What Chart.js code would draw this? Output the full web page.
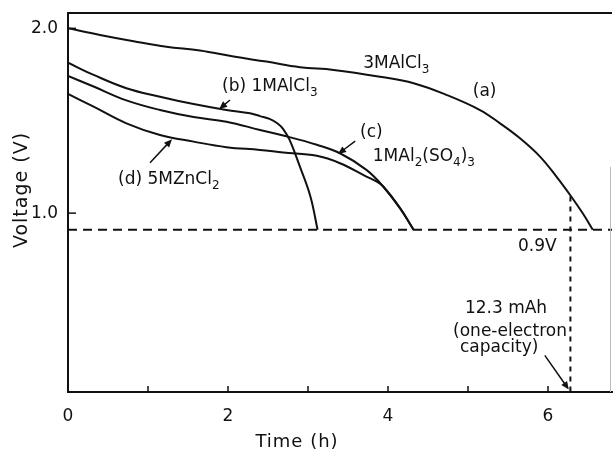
<!DOCTYPE html>
<html>
<head>
<meta charset="utf-8">
<script src="https://cdn.jsdelivr.net/npm/chart.js@4.4.0/dist/chart.umd.min.js"></script>
<style>
  html, body { margin: 0; padding: 0; background: #fff; }
</style>
</head>
<body>
<canvas id="chart" width="613" height="450"></canvas>
<script>
// ── Data (time in h, voltage in V) ─────────────────────────────
const aTime = [0, 0.4, 0.82, 1.23, 1.65, 2.07, 2.48, 2.9, 3.32, 3.9, 4.32, 4.73, 5.15, 5.4, 5.65, 5.9, 6.11, 6.29, 6.44, 6.56];
const aVolt = [2.0, 1.964, 1.93, 1.9, 1.88, 1.847, 1.82, 1.79, 1.775, 1.738, 1.703, 1.64, 1.558, 1.486, 1.405, 1.306, 1.195, 1.09, 0.995, 0.91];

const bTime = [0, 0.32, 0.73, 1.15, 1.57, 1.98, 2.275, 2.4, 2.52, 2.62, 2.69, 2.77, 2.9, 3.03, 3.12];
const bVolt = [1.814, 1.748, 1.676, 1.63, 1.59, 1.558, 1.54, 1.525, 1.51, 1.485, 1.455, 1.396, 1.25, 1.09, 0.91];

const cTime = [0, 0.32, 0.73, 1.15, 1.57, 1.98, 2.4, 2.69, 3.11, 3.4, 3.73, 3.94, 4.15, 4.32];
const cVolt = [1.742, 1.685, 1.61, 1.558, 1.52, 1.495, 1.45, 1.42, 1.37, 1.324, 1.234, 1.144, 1.027, 0.91];

const dTime = [0, 0.32, 0.73, 1.15, 1.57, 1.98, 2.4, 2.69, 3.11, 3.4, 3.73, 3.86, 3.94, 4.15, 4.32];
const dVolt = [1.645, 1.576, 1.486, 1.423, 1.387, 1.357, 1.342, 1.328, 1.31, 1.27, 1.198, 1.17, 1.144, 1.027, 0.91];

const cutTime = [0, 6.8];       // 0.9 V cut-off line
const cutVolt = [0.91, 0.91];
const capTime = [6.28, 6.28];   // one-electron capacity marker
const capVolt = [1.09, 0.032];

const xTicks = [0, 1, 2, 3, 4, 5, 6];
const yTicks = [1.0, 2.0];

// ── Style ──────────────────────────────────────────────────────
const INK  = '#111';
const FONT = 'DejaVu Sans';

// annotation texts, anchored in data units; "_x" = subscript x
const NOTES = [
  { t: '3MAlCl_3',        x: 3.69,  y: 1.807 },
  { t: '(a)',             x: 5.06,  y: 1.66 },
  { t: '(b) 1MAlCl_3',    x: 1.925, y: 1.683 },
  { t: '(c)',             x: 3.65,  y: 1.434 },
  { t: '1MAl_2(SO_4)_3',  x: 3.81,  y: 1.305 },
  { t: '(d) 5MZnCl_2',    x: 0.625, y: 1.18 },
  { t: '0.9V',            x: 5.625, y: 0.818 },
  { t: '12.3 mAh',        x: 5.475, y: 0.483, align: 'center' },
  { t: '(one-electron',   x: 5.525, y: 0.359, align: 'center' },
  { t: 'capacity)',       x: 5.39,  y: 0.27,  align: 'center' },
];

const ARROWS = [
  { from: [2.025, 1.612], to: [1.89, 1.563] },
  { from: [1.025, 1.272], to: [1.3, 1.40] },
  { from: [3.59, 1.39],   to: [3.375, 1.32] },
  { from: [5.96, 0.23],   to: [6.26, 0.045] },
];

const pts = (xs, ys) => xs.map((x, i) => ({ x, y: ys[i] }));

function curve(xs, ys) {
  return {
    data: pts(xs, ys), showLine: true, borderColor: INK, borderWidth: 2,
    pointRadius: 0, tension: 0.4, fill: false,
  };
}

function dashed(xs, ys, dash) {
  return {
    data: pts(xs, ys), showLine: true, borderColor: INK, borderWidth: 2,
    pointRadius: 0, borderDash: dash, fill: false,
  };
}

// text with single-char subscripts
function rich(ctx, text, x, y, align) {
  const parts = text.split(/(_.)/).filter(Boolean).map(p =>
    p[0] === '_' ? { t: p.slice(1), sub: true } : { t: p, sub: false });
  const big = `17px "${FONT}"`, small = `12px "${FONT}"`;
  let w = 0;
  parts.forEach(p => { ctx.font = p.sub ? small : big; w += ctx.measureText(p.t).width; });
  let cx = align === 'center' ? x - w / 2 : x;
  ctx.textAlign = 'left';
  ctx.textBaseline = 'middle';
  parts.forEach(p => {
    ctx.font = p.sub ? small : big;
    ctx.fillText(p.t, cx, p.sub ? y + 6 : y);
    cx += ctx.measureText(p.t).width;
  });
}

function arrow(ctx, x1, y1, x2, y2) {
  const ang = Math.atan2(y2 - y1, x2 - x1);
  ctx.beginPath();
  ctx.moveTo(x1, y1);
  ctx.lineTo(x2 - 5 * Math.cos(ang), y2 - 5 * Math.sin(ang));
  ctx.stroke();
  ctx.beginPath();
  ctx.moveTo(x2, y2);
  ctx.lineTo(x2 - 8 * Math.cos(ang) + 3.5 * Math.sin(ang), y2 - 8 * Math.sin(ang) - 3.5 * Math.cos(ang));
  ctx.lineTo(x2 - 8 * Math.cos(ang) - 3.5 * Math.sin(ang), y2 - 8 * Math.sin(ang) + 3.5 * Math.cos(ang));
  ctx.closePath();
  ctx.fill();
}

const decor = {
  id: 'decor',
  afterDatasetsDraw(chart) {
    const { ctx, chartArea: a, scales: { x, y } } = chart;
    ctx.save();
    ctx.strokeStyle = INK;
    ctx.fillStyle = INK;

    // top frame line
    ctx.lineWidth = 2;
    ctx.beginPath();
    ctx.moveTo(a.left, a.top); ctx.lineTo(a.right, a.top);
    ctx.stroke();

    // faint right frame (cut off in the scan)
    ctx.strokeStyle = '#bbb';
    ctx.lineWidth = 1;
    ctx.beginPath();
    ctx.moveTo(a.right - 1.5, y.getPixelForValue(1.25));
    ctx.lineTo(a.right - 1.5, a.bottom);
    ctx.stroke();
    ctx.strokeStyle = INK;

    // inward tick marks
    ctx.lineWidth = 1.5;
    x.ticks.forEach(t => {
      if (t.value === 0) return;
      const px = x.getPixelForValue(t.value);
      ctx.beginPath(); ctx.moveTo(px, a.bottom); ctx.lineTo(px, a.bottom - 6); ctx.stroke();
    });
    y.ticks.forEach(t => {
      const py = y.getPixelForValue(t.value);
      ctx.beginPath(); ctx.moveTo(a.left, py); ctx.lineTo(a.left + 8, py); ctx.stroke();
    });

    // annotations
    NOTES.forEach(n => rich(ctx, n.t, x.getPixelForValue(n.x), y.getPixelForValue(n.y), n.align));

    ctx.lineWidth = 1.5;
    ARROWS.forEach(r => arrow(ctx,
      x.getPixelForValue(r.from[0]), y.getPixelForValue(r.from[1]),
      x.getPixelForValue(r.to[0]),   y.getPixelForValue(r.to[1])));

    // axis titles
    ctx.textAlign = 'center';
    ctx.textBaseline = 'middle';
    ctx.font = `18px "${FONT}"`;
    ctx.letterSpacing = '1px';
    ctx.fillText('Time (h)', 297, 442);
    ctx.translate(22, 190);
    ctx.rotate(-Math.PI / 2);
    ctx.font = `19px "${FONT}"`;
    ctx.fillText('Voltage (V)', 0, 0);
    ctx.restore();
  },
};

new Chart(document.getElementById('chart'), {
  type: 'scatter',
  data: {
    datasets: [
      curve(aTime, aVolt),
      curve(bTime, bVolt),
      curve(cTime, cVolt),
      curve(dTime, dVolt),
      dashed(cutTime, cutVolt, [9, 6]),
      dashed(capTime, capVolt, [5, 5]),
    ],
  },
  options: {
    responsive: false,
    animation: false,
    layout: { padding: { left: 0, top: 13, right: 1, bottom: 0 } },
    plugins: { legend: { display: false }, tooltip: { enabled: false } },
    scales: {
      x: {
        type: 'linear', min: 0, max: 6.8,
        afterBuildTicks: s => { s.ticks = xTicks.map(v => ({ value: v })); },
        afterFit: s => { s.height = 58; },
        grid: { display: false },
        border: { display: true, color: INK, width: 2 },
        ticks: {
          color: INK, padding: 6, maxRotation: 0,
          font: { family: FONT, size: 17 },
          callback: v => (v % 2 === 0 ? String(v) : ''),
        },
      },
      y: {
        type: 'linear', min: 0.032, max: 2.083,
        afterBuildTicks: s => { s.ticks = yTicks.map(v => ({ value: v })); },
        afterFit: s => { s.width = 68; },
        grid: { display: false },
        border: { display: true, color: INK, width: 2 },
        ticks: {
          color: INK, padding: 2,
          font: { family: FONT, size: 17 },
          callback: v => Number(v).toFixed(1),
        },
      },
    },
  },
  plugins: [decor],
});
</script>
</body>
</html>
